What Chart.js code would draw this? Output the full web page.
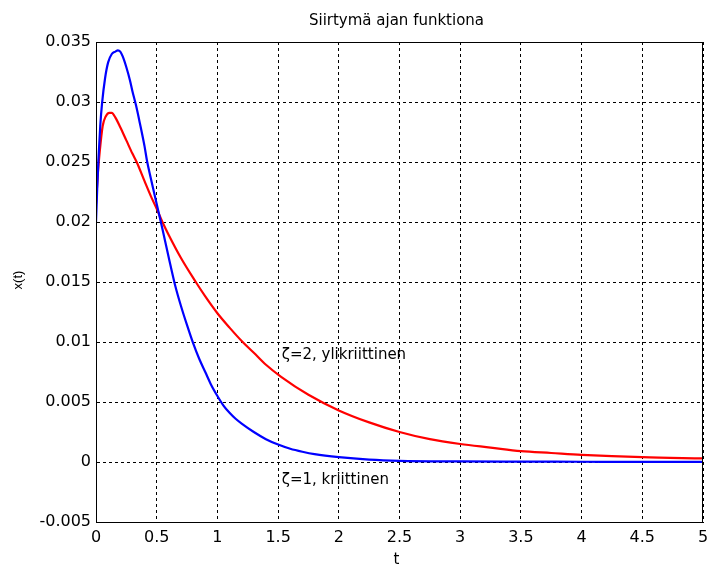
<!DOCTYPE html>
<html>
<head>
<meta charset="utf-8">
<script src="https://cdn.jsdelivr.net/npm/chart.js@4/dist/chart.umd.min.js"></script>
<style>
  html, body { margin: 0; padding: 0; background: #ffffff; }
  #wrap { width: 707px; height: 567px; position: relative; }
</style>
</head>
<body>
<div id="wrap"><canvas id="c" width="707" height="567"></canvas></div>
<script>
// ---- data ----
const titleText = "Siirtymä ajan funktiona";
const xAxisLabel = "t";
const yAxisLabel = "x(t)";
const xTickLabels = ["0", "0.5", "1", "1.5", "2", "2.5", "3", "3.5", "4", "4.5", "5"];
const yTickLabels = ["-0.005", "0", "0.005", "0.01", "0.015", "0.02", "0.025", "0.03", "0.035"];

// ζ=1, kriittinen (blue)
const tBlue = [0, 0.01, 0.02, 0.035, 0.05, 0.075, 0.1, 0.13, 0.16, 0.18, 0.2, 0.22, 0.25, 0.28, 0.3, 0.33, 0.36, 0.4, 0.42, 0.45, 0.5, 0.55, 0.6, 0.65, 0.7, 0.75, 0.8, 0.85, 0.9, 0.95, 1.0, 1.05, 1.1, 1.15, 1.2, 1.3, 1.4, 1.5, 1.6, 1.7, 1.8, 2.0, 2.25, 2.5, 3.0, 3.5, 4.0, 4.5, 5.0];
const xBlue = [0.0200, 0.0228, 0.0252, 0.0280, 0.0299, 0.0320, 0.0333, 0.0340, 0.0342, 0.0343, 0.0342, 0.0338, 0.0329, 0.0318, 0.0309, 0.0297, 0.0283, 0.0263, 0.0251, 0.0237, 0.0215, 0.0193, 0.0170, 0.0148, 0.0130, 0.0114, 0.0099, 0.0086, 0.0075, 0.0064, 0.0055, 0.0047, 0.0041, 0.0036, 0.0032, 0.0025, 0.0019, 0.00145, 0.0011, 0.00085, 0.00065, 0.0004, 0.0002, 0.0001, 0.00005, 0.00003, 0.00002, 0.00001, 0.00001];

// ζ=2, ylikriittinen (red)
const tRed = [0, 0.015, 0.03, 0.055, 0.08, 0.11, 0.13, 0.16, 0.2, 0.25, 0.3, 0.335, 0.4, 0.45, 0.5, 0.547, 0.6, 0.7, 0.822, 0.9, 1.0, 1.1, 1.208, 1.3, 1.4, 1.525, 1.75, 2.0, 2.25, 2.5, 2.75, 3.0, 3.25, 3.5, 3.75, 4.0, 4.5, 5.0];
const xRed = [0.0215, 0.0240, 0.0258, 0.0280, 0.0288, 0.0291, 0.0291, 0.0287, 0.0279, 0.0268, 0.0257, 0.0250, 0.0234, 0.0222, 0.0211, 0.0200, 0.0189, 0.0170, 0.0150, 0.0138, 0.0124, 0.0112, 0.0100, 0.0091, 0.0081, 0.0071, 0.0056, 0.0043, 0.0033, 0.0025, 0.0019, 0.0015, 0.0012, 0.0009, 0.00075, 0.0006, 0.0004, 0.0003];

const annotations = [
  { text: "ζ=2, ylikriittinen", x: 1.53, y: 0.0089 },
  { text: "ζ=1, kriittinen", x: 1.53, y: -0.0015 }
];

// ---- chart ----
const toPts = (ts, xs) => ts.map((t, i) => ({ x: t, y: xs[i] }));

const textPlugin = {
  id: 'texts',
  afterDraw(chart) {
    const ctx = chart.ctx;
    const ca = chart.chartArea;
    const xs = chart.scales.x, ys = chart.scales.y;
    ctx.save();
    ctx.fillStyle = '#000';
    // title
    ctx.font = '15px "DejaVu Sans"';
    ctx.textAlign = 'center';
    ctx.textBaseline = 'middle';
    ctx.fillText(titleText, (ca.left + ca.right) / 2 - 3, 21);
    // x axis label
    ctx.fillText(xAxisLabel, (ca.left + ca.right) / 2 - 3, 560);
    // y axis label
    ctx.save();
    ctx.translate(18, (ca.top + ca.bottom) / 2 - 2);
    ctx.rotate(-Math.PI / 2);
    ctx.font = '13px "Liberation Sans"';
    ctx.fillText(yAxisLabel, 0, 0);
    ctx.restore();
    // annotations
    ctx.font = '15px "DejaVu Sans"';
    ctx.textAlign = 'left';
    annotations.forEach(a => {
      ctx.fillText(a.text, xs.getPixelForValue(a.x), ys.getPixelForValue(a.y));
    });
    // frame
    ctx.strokeStyle = '#000';
    ctx.lineWidth = 1;
    ctx.setLineDash([]);
    ctx.strokeRect(Math.round(ca.left) + 0.5, Math.round(ca.top) + 0.5,
                   Math.round(ca.right - ca.left) - 1, Math.round(ca.bottom - ca.top));
    ctx.restore();
  }
};

new Chart(document.getElementById('c'), {
  type: 'line',
  data: {
    datasets: [
      {
        label: 'ζ=1, kriittinen',
        data: toPts(tBlue, xBlue),
        borderColor: '#0000ff',
        borderWidth: 2.2,
        pointRadius: 0,
        cubicInterpolationMode: 'monotone',
        fill: false
      },
      {
        label: 'ζ=2, ylikriittinen',
        data: toPts(tRed, xRed),
        borderColor: '#ff0000',
        borderWidth: 2.2,
        pointRadius: 0,
        cubicInterpolationMode: 'monotone',
        fill: false
      }
    ]
  },
  options: {
    responsive: false,
    animation: false,
    devicePixelRatio: 1,
    layout: { padding: { left: 0, right: 4, top: 42, bottom: 0 } },
    plugins: {
      legend: { display: false },
      title: { display: false },
      tooltip: { enabled: false }
    },
    scales: {
      x: {
        type: 'linear',
        min: 0, max: 5,
        afterFit(s) { s.height = 45; s.paddingLeft = 0; s.paddingRight = 0; },
        ticks: {
          stepSize: 0.5,
          padding: 6,
          color: '#000',
          font: { family: 'DejaVu Sans', size: 16 },
          maxRotation: 0,
          callback: (v) => { const i = Math.round(v / 0.5); return xTickLabels[i] !== undefined ? xTickLabels[i] : ''; }
        },
        grid: { color: '#000', lineWidth: 1, drawTicks: false },
        border: { display: true, color: '#000', dash: [3, 3] }
      },
      y: {
        type: 'linear',
        min: -0.005, max: 0.035,
        afterFit(s) { s.width = 96; s.paddingTop = 0; s.paddingBottom = 0; },
        ticks: {
          stepSize: 0.005,
          padding: 5,
          color: '#000',
          font: { family: 'DejaVu Sans', size: 16 },
          callback: (v) => { const i = Math.round((v + 0.005) / 0.005); return yTickLabels[i] !== undefined ? yTickLabels[i] : ''; }
        },
        grid: { color: '#000', lineWidth: 1, drawTicks: false },
        border: { display: true, color: '#000', dash: [3, 3] }
      }
    }
  },
  plugins: [textPlugin]
});
</script>
</body>
</html>
